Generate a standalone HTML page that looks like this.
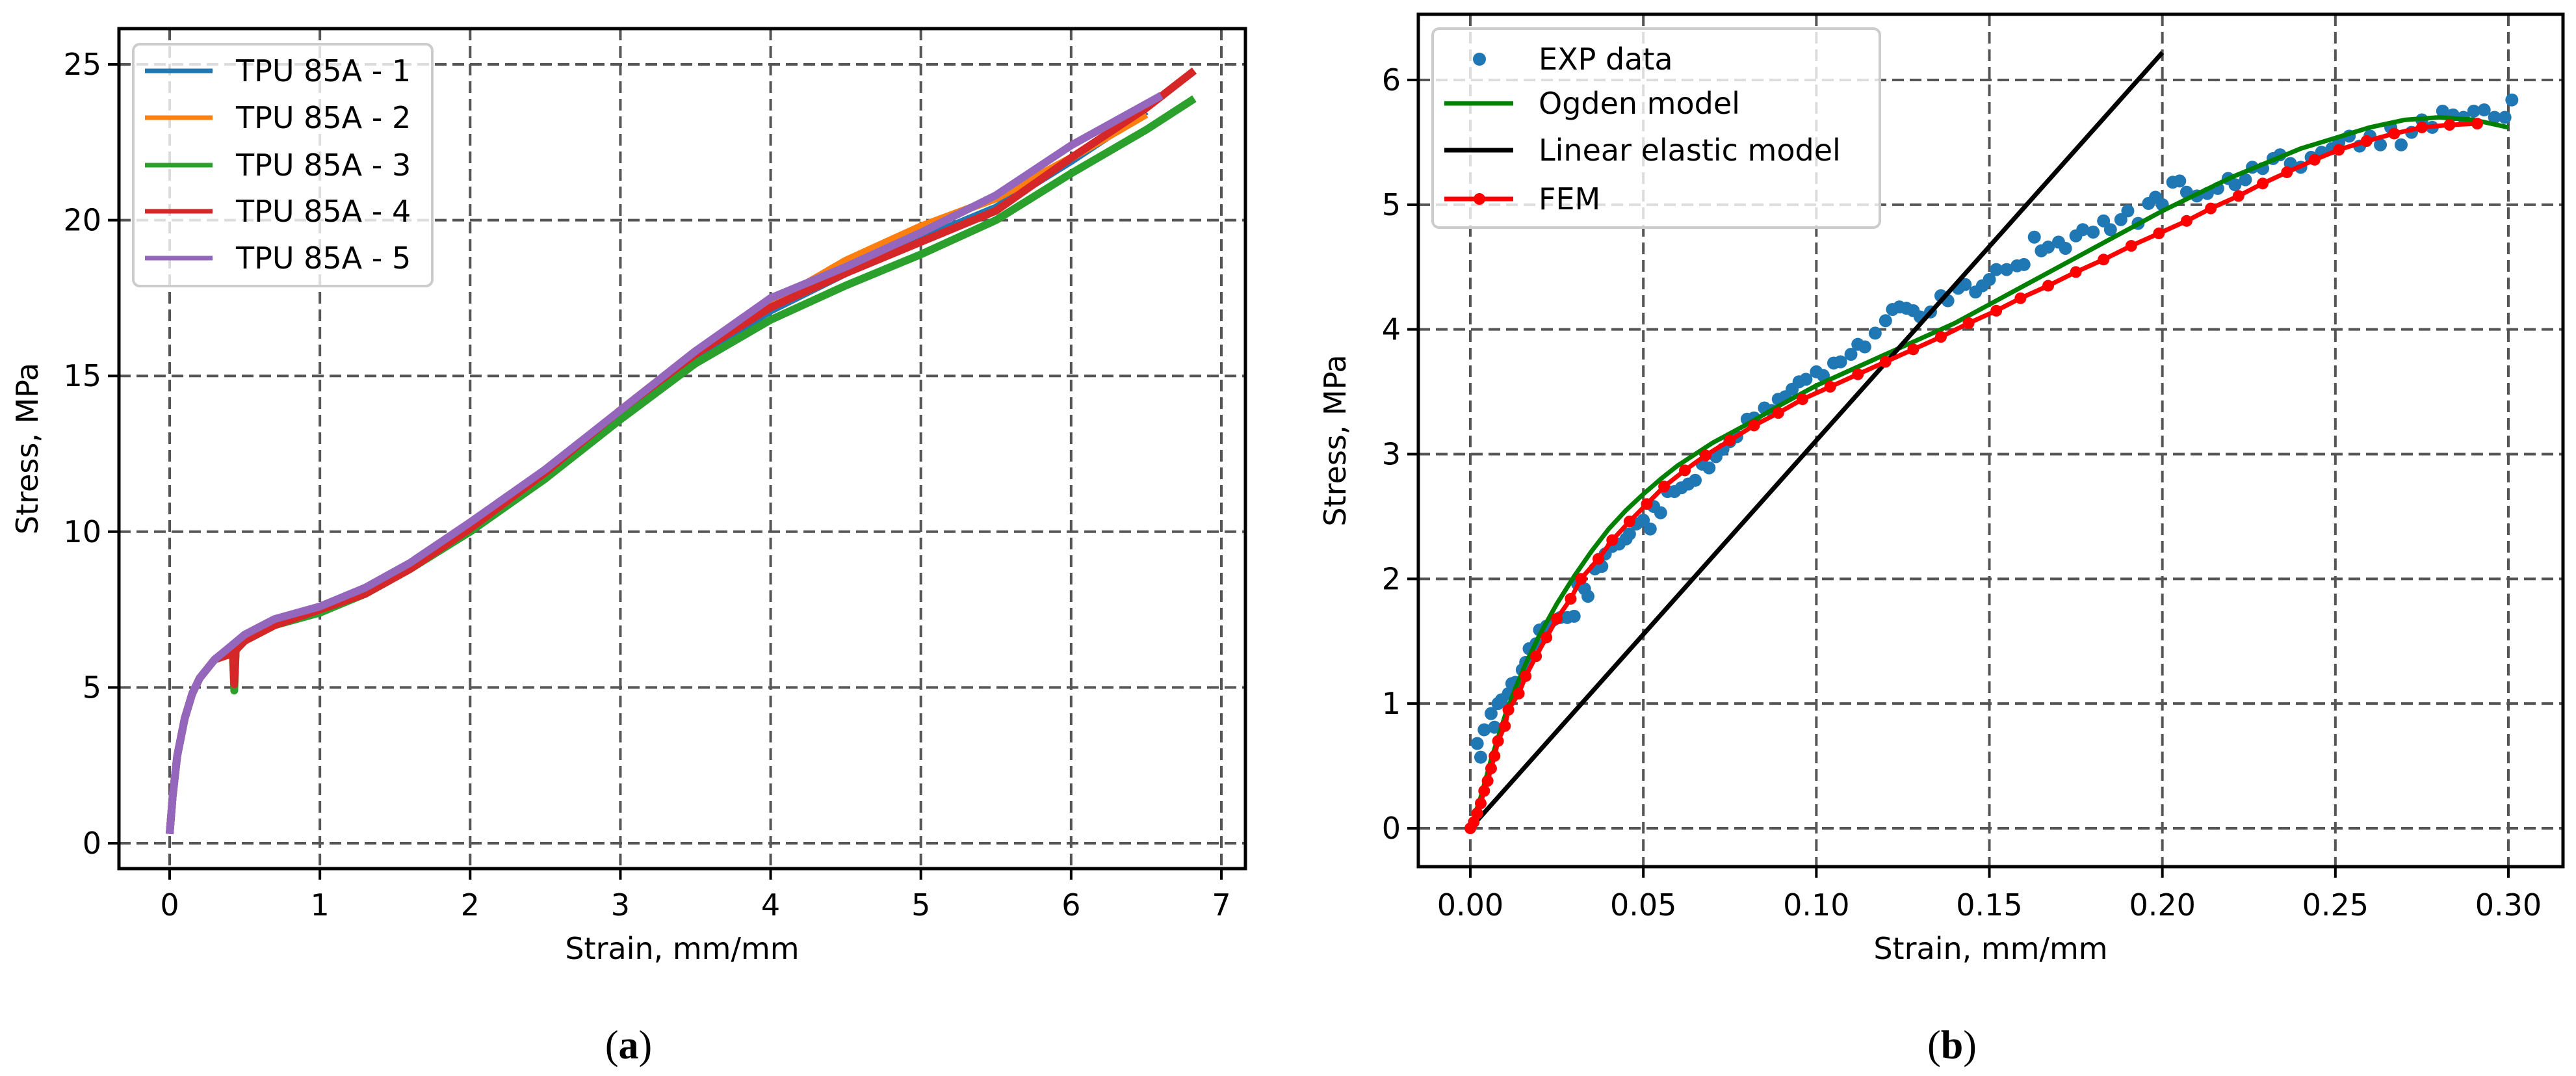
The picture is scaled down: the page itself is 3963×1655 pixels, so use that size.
<!DOCTYPE html>
<html><head><meta charset="utf-8">
<style>
html,body{margin:0;padding:0;background:#fff;}
svg{display:block;}
text{font-family:"DejaVu Sans","Liberation Sans",sans-serif;fill:#000;}
.cap{font-family:"Liberation Serif",serif;}
</style></head>
<body>
<svg id="fig" width="3963" height="1655" viewBox="0 0 3963 1655" xmlns="http://www.w3.org/2000/svg">
<g id="pa"></g>
<g id="pb"></g>
<text class="cap" x="967" y="1628" font-size="62" text-anchor="middle">(<tspan font-weight="bold">a</tspan>)</text>
<text class="cap" x="3003" y="1628" font-size="62" text-anchor="middle">(<tspan font-weight="bold">b</tspan>)</text>
</svg>
<script>
// ---- Panel A data ----
const aXTicks=[0,1,2,3,4,5,6,7];
const aYTicks=[0,5,10,15,20,25];
const aNames=["TPU 85A - 1","TPU 85A - 2","TPU 85A - 3","TPU 85A - 4","TPU 85A - 5"];
const aColors=["#1f77b4","#ff7f0e","#2ca02c","#d62728","#9467bd"];
const s1x=[0,0.02,0.05,0.1,0.15,0.2,0.3,0.4,0.5,0.7,1,1.3,1.6,2,2.5,3,3.5,4,4.5,5,5.5,6,6.5];
const s1y=[0.3,1.5,2.8,4,4.8,5.3,5.9,6.2,6.5,7.1,7.5,8.1,8.9,10.1,11.8,13.7,15.6,17.1,18.3,19.4,20.4,21.9,23.5];
const s2x=[0,0.02,0.05,0.1,0.15,0.2,0.3,0.4,0.5,0.7,1,1.3,1.6,2,2.5,3,3.5,4,4.5,5,5.5,6,6.5];
const s2y=[0.3,1.5,2.8,4,4.8,5.3,5.9,6.2,6.6,7.1,7.5,8.1,8.9,10.2,11.9,13.9,15.8,17.3,18.7,19.8,20.7,22.0,23.4];
const s3x=[0,0.02,0.05,0.1,0.15,0.2,0.3,0.42,0.43,0.44,0.5,0.7,1,1.3,1.6,2,2.5,3,3.5,4,4.5,5,5.5,6,6.5,6.82];
const s3y=[0.3,1.5,2.8,4,4.8,5.3,5.9,6.1,4.9,6.2,6.5,7.0,7.4,8.0,8.8,10.0,11.7,13.6,15.4,16.8,17.9,18.9,20.0,21.5,22.9,23.9];
const s4x=[0,0.02,0.05,0.1,0.15,0.2,0.3,0.42,0.43,0.44,0.5,0.7,1,1.3,1.6,2,2.5,3,3.5,4,4.5,5,5.5,6,6.5,6.82];
const s4y=[0.3,1.5,2.8,4,4.8,5.3,5.9,6.1,5.1,6.2,6.5,7.0,7.5,8.0,8.8,10.1,11.9,13.9,15.7,17.2,18.3,19.3,20.3,22.0,23.6,24.8];
const s5x=[0,0.02,0.05,0.1,0.15,0.2,0.3,0.4,0.5,0.7,1,1.3,1.6,2,2.5,3,3.5,4,4.5,5,5.5,6,6.6];
const s5y=[0.3,1.5,2.8,4,4.8,5.3,5.9,6.3,6.7,7.2,7.6,8.2,9.0,10.3,12.0,13.9,15.8,17.5,18.5,19.6,20.8,22.4,24.0];
// ---- Panel B data ----
const bXTicks=[0,0.05,0.10,0.15,0.20,0.25,0.30];
const bXLabels=["0.00","0.05","0.10","0.15","0.20","0.25","0.30"];
const bYTicks=[0,1,2,3,4,5,6];
const ogX=[0,0.003,0.006,0.01,0.013,0.016,0.02,0.025,0.03,0.035,0.04,0.045,0.05,0.055,0.06,0.065,0.07,0.08,0.09,0.1,0.12,0.14,0.16,0.18,0.2,0.22,0.24,0.26,0.27,0.28,0.29,0.3];
const ogY=[0,0.25,0.55,0.9,1.12,1.32,1.55,1.8,2.02,2.22,2.4,2.55,2.68,2.8,2.91,3.0,3.09,3.24,3.4,3.55,3.8,4.05,4.35,4.65,4.95,5.22,5.45,5.62,5.68,5.7,5.68,5.62];
const linX=[0,0.2];
const linY=[0,6.22];
const femX=[0,0.001,0.002,0.003,0.004,0.005,0.006,0.007,0.008,0.01,0.011,0.014,0.016,0.019,0.022,0.025,0.029,0.032,0.037,0.041,0.046,0.051,0.056,0.062,0.068,0.075,0.082,0.089,0.096,0.104,0.112,0.12,0.128,0.136,0.144,0.152,0.159,0.167,0.175,0.183,0.191,0.199,0.207,0.214,0.222,0.229,0.236,0.244,0.251,0.259,0.267,0.275,0.283,0.291];
const femY=[0,0.05,0.12,0.2,0.3,0.38,0.48,0.58,0.7,0.82,0.95,1.08,1.22,1.38,1.53,1.68,1.84,2.0,2.16,2.31,2.46,2.6,2.74,2.87,2.99,3.11,3.23,3.33,3.44,3.54,3.64,3.74,3.84,3.94,4.05,4.15,4.25,4.35,4.46,4.56,4.67,4.77,4.87,4.97,5.07,5.17,5.26,5.36,5.44,5.51,5.57,5.62,5.64,5.65];
const expX=[0.002,0.003,0.004,0.006,0.007,0.008,0.009,0.011,0.012,0.013,0.015,0.016,0.017,0.019,0.02,0.022,0.024,0.026,0.028,0.03,0.031,0.033,0.034,0.036,0.038,0.039,0.041,0.043,0.045,0.046,0.048,0.05,0.052,0.053,0.055,0.057,0.059,0.061,0.063,0.065,0.067,0.069,0.071,0.073,0.075,0.077,0.08,0.082,0.085,0.087,0.089,0.091,0.093,0.095,0.097,0.1,0.102,0.105,0.107,0.11,0.112,0.114,0.117,0.12,0.122,0.124,0.126,0.128,0.13,0.133,0.136,0.138,0.141,0.143,0.146,0.148,0.15,0.152,0.155,0.158,0.16,0.163,0.165,0.167,0.17,0.172,0.175,0.177,0.18,0.183,0.185,0.188,0.19,0.193,0.196,0.198,0.2,0.203,0.205,0.207,0.21,0.213,0.216,0.219,0.221,0.224,0.226,0.229,0.232,0.234,0.237,0.24,0.243,0.246,0.249,0.251,0.254,0.257,0.26,0.263,0.266,0.269,0.272,0.275,0.278,0.281,0.284,0.287,0.29,0.293,0.296,0.299,0.301];
const expY=[0.68,0.57,0.79,0.92,0.81,1.0,1.03,1.08,1.16,1.17,1.27,1.33,1.44,1.48,1.59,1.62,1.67,1.69,1.69,1.7,1.96,1.92,1.86,2.08,2.1,2.2,2.26,2.28,2.32,2.36,2.44,2.47,2.4,2.58,2.53,2.7,2.7,2.73,2.76,2.79,2.92,2.89,2.98,3.04,3.1,3.14,3.28,3.29,3.37,3.35,3.44,3.46,3.52,3.58,3.6,3.66,3.63,3.73,3.74,3.8,3.88,3.86,3.97,4.07,4.16,4.18,4.17,4.15,4.1,4.14,4.27,4.23,4.33,4.36,4.3,4.35,4.4,4.48,4.48,4.51,4.52,4.74,4.63,4.66,4.7,4.65,4.75,4.8,4.78,4.87,4.8,4.88,4.95,4.85,5.01,5.06,5.0,5.18,5.19,5.1,5.07,5.09,5.13,5.21,5.16,5.2,5.3,5.29,5.37,5.4,5.33,5.3,5.38,5.42,5.45,5.5,5.55,5.47,5.55,5.48,5.62,5.48,5.58,5.68,5.62,5.75,5.72,5.7,5.75,5.76,5.7,5.7,5.84];

const NS="http://www.w3.org/2000/svg";
function mk(parent,tag,attrs,txt){const e=document.createElementNS(NS,tag);for(const k in attrs)e.setAttribute(k,attrs[k]);if(txt!==undefined)e.textContent=txt;parent.appendChild(e);return e;}
function lin(d0,d1,r0,r1){return v=>r0+(v-d0)*(r1-r0)/(d1-d0);}

function axes(g,box,sx,sy,xt,xl,yt,xlabel,ylabel,ylabX){
  const [L,T,R,B]=box;
  xt.forEach((v,i)=>{const x=sx(v);
    const l=mk(g,'line',{x1:x,y1:T,x2:x,y2:B,stroke:'#555','stroke-width':4,'stroke-dasharray':'18,9'});
    
    
    const tk=mk(g,'line',{x1:x,y1:B,x2:x,y2:B+17,stroke:'#000','stroke-width':4});
    
    
    const t=mk(g,'text',{x:x,y:1408,'font-size':46,'text-anchor':'middle'},xl[i]);
    
    
  });
  yt.forEach(v=>{const y=sy(v);
    const l=mk(g,'line',{x1:L,y1:y,x2:R,y2:y,stroke:'#555','stroke-width':4,'stroke-dasharray':'18,9'});
    
    
    const tk=mk(g,'line',{x1:L-17,y1:y,x2:L,y2:y,stroke:'#000','stroke-width':4});
    
    
    const t=mk(g,'text',{x:L-27,y:y+16,'font-size':46,'text-anchor':'end'},String(v));
    
    
  });
  const xlab=mk(g,'text',{x:(L+R)/2,y:1475,'font-size':46,'text-anchor':'middle'},xlabel);
  
  
  const cy=(T+B)/2;
  const ylab=mk(g,'text',{x:ylabX,y:cy,'font-size':46,'text-anchor':'middle',transform:`rotate(-90 ${ylabX} ${cy})`},ylabel);
  
  
}
function frame(g,box){const [L,T,R,B]=box;
  const f=mk(g,'rect',{x:L,y:T,width:R-L,height:B-T,fill:'none',stroke:'#000','stroke-width':5});
  
  
}
function path(xs,ys,sx,sy){return xs.map((x,i)=>(i?'L':'M')+sx(x).toFixed(1)+','+sy(ys[i]).toFixed(1)).join(' ');}

// Panel A
(function(){
  const g=document.getElementById('pa');
  const box=[183,44,1916,1336];
  const sx=lin(0,7,261,1879), sy=lin(0,25,1297,99);
  mk(g,'rect',{x:183,y:44,width:1733,height:1292,fill:'#fff'});
  axes(g,box,sx,sy,aXTicks,aXTicks.map(String),aYTicks,'Strain, mm/mm','Stress, MPa',58);
  const defs=mk(g,'defs',{});const cp=mk(defs,'clipPath',{id:'ca'});mk(cp,'rect',{x:183,y:44,width:1733,height:1292});
  const cl=mk(g,'g',{'clip-path':'url(#ca)'});
  const SX=[s1x,s2x,s3x,s4x,s5x], SY=[s1y,s2y,s3y,s4y,s5y];
  SX.forEach((xs,i)=>{
    const p=mk(cl,'path',{d:path(xs,SY[i],sx,sy),fill:'none',stroke:aColors[i],'stroke-width':12,'stroke-linejoin':'round'});
    
    
  });
  frame(g,box);
  const lg=mk(g,'g',{});
  
  
  mk(lg,'rect',{x:205,y:68,width:460,height:372,rx:10,fill:'#fff','fill-opacity':0.8,stroke:'#ccc','stroke-width':4});
  const ys=[109,181,254,325,397];
  aNames.forEach((n,i)=>{
    const e=mk(lg,'g',{});
    
    
    mk(e,'line',{x1:223,y1:ys[i],x2:327,y2:ys[i],stroke:aColors[i],'stroke-width':7});
    mk(e,'text',{x:363,y:ys[i]+16,'font-size':46},n);
  });
})();

// Panel B
(function(){
  const g=document.getElementById('pb');
  const box=[2182,22,3943,1333];
  const sx=lin(0,0.3,2262,3859), sy=lin(0,6,1274,123);
  axes(g,box,sx,sy,bXTicks,bXLabels,bYTicks,'Strain, mm/mm','Stress, MPa',2070);
  const defs=mk(g,'defs',{});const cp=mk(defs,'clipPath',{id:'cb'});mk(cp,'rect',{x:2182,y:22,width:1761,height:1311});
  const cl=mk(g,'g',{'clip-path':'url(#cb)'});
  const eg=mk(cl,'g',{fill:'#1f77b4'});
  
  
  expX.forEach((x,i)=>{
    const c=mk(eg,'circle',{cx:sx(x),cy:sy(expY[i]),r:10});
    
    
  });
  const og=mk(cl,'path',{d:path(ogX,ogY,sx,sy),fill:'none',stroke:'#008000','stroke-width':7,'stroke-linejoin':'round'});
  
  
  const ln=mk(cl,'path',{d:path(linX,linY,sx,sy),fill:'none',stroke:'#000','stroke-width':7});
  
  
  const fe=mk(cl,'path',{d:path(femX,femY,sx,sy),fill:'none',stroke:'#ff0000','stroke-width':7,'stroke-linejoin':'round'});
  
  
  const fg=mk(cl,'g',{fill:'#ff0000'});
  
  
  femX.forEach((x,i)=>{
    const c=mk(fg,'circle',{cx:sx(x),cy:sy(femY[i]),r:9});
    
    
  });
  frame(g,box);
  const lg=mk(g,'g',{});
  
  
  mk(lg,'rect',{x:2204,y:44,width:688,height:306,rx:10,fill:'#fff','fill-opacity':0.8,stroke:'#ccc','stroke-width':4});
  const items=[["EXP data","pt"],["Ogden model","#008000"],["Linear elastic model","#000"],["FEM","fem"]];
  const ys=[91,159,231,306];
  items.forEach((it,i)=>{
    const e=mk(lg,'g',{});
    
    
    if(it[1]==='pt'){mk(e,'circle',{cx:2276,cy:ys[i],r:10,fill:'#1f77b4'});}
    else if(it[1]==='fem'){mk(e,'line',{x1:2222,y1:ys[i],x2:2328,y2:ys[i],stroke:'#ff0000','stroke-width':7});mk(e,'circle',{cx:2276,cy:ys[i],r:9,fill:'#ff0000'});}
    else mk(e,'line',{x1:2222,y1:ys[i],x2:2328,y2:ys[i],stroke:it[1],'stroke-width':7});
    mk(e,'text',{x:2367,y:ys[i]+16,'font-size':46},it[0]);
  });
})();
</script>
</body></html>
